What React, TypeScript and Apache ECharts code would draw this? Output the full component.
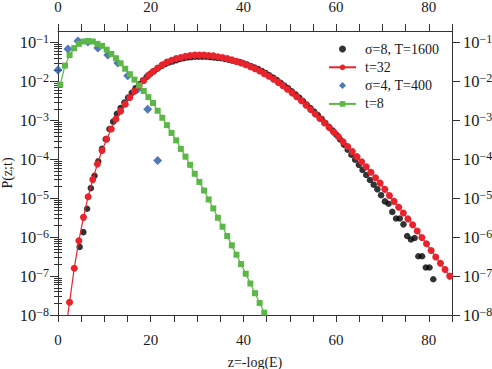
import React, { useEffect, useRef } from "react";
import * as echarts from "echarts";

// ---- data (y values are log10 P) ----
const zGreen = [0.5, 1.5, 2.5, 3.5, 4.5, 5.5, 6.5, 7.5, 8.5, 9.5, 10.5, 11.5, 12.5, 13.5, 14.5, 15.5, 16.5, 17.5, 18.5, 19.5, 20.5, 21.5, 22.5, 23.5, 24.5, 25.5, 26.5, 27.5, 28.5, 29.5, 30.5, 31.5, 32.5, 33.5, 34.5, 35.5, 36.5, 37.5, 38.5, 39.5, 40.5, 41.5, 42.5, 43.5, 44.5];
const logGreen = [-2.08, -1.59, -1.32, -1.14, -1.03, -0.97, -0.96, -0.97, -1.03, -1.08, -1.18, -1.29, -1.4, -1.53, -1.67, -1.81, -1.95, -2.1, -2.24, -2.4, -2.55, -2.75, -2.93, -3.12, -3.32, -3.51, -3.73, -3.93, -4.14, -4.37, -4.58, -4.8, -5.03, -5.26, -5.5, -5.73, -5.97, -6.21, -6.45, -6.69, -6.94, -7.19, -7.44, -7.69, -7.94];

const zBlue = [0, 2.15, 4.3, 6.45, 8.6, 10.75, 12.9, 15.05, 17.2, 19.35, 21.5];
const logBlue = [-1.7, -1.16, -0.96, -0.98, -1.14, -1.32, -1.52, -1.85, -2.2, -2.71, -4.03];

const zRed = [1.5, 2.5, 3.5, 4.5, 5.5, 6.5, 7.5, 8.5, 9.5, 10.5, 11.5, 12.5, 13.5, 14.5, 15.5, 16.5, 17.5, 18.5, 19.5, 20.5, 21.5, 22.5, 23.5, 24.5, 25.5, 26.5, 27.5, 28.5, 29.5, 30.5, 31.5, 32.5, 33.5, 34.5, 35.5, 36.5, 37.5, 38.5, 39.5, 40.5, 41.5, 42.5, 43.5, 44.5, 45.5, 46.5, 47.5, 48.5, 49.5, 50.5, 51.5, 52.5, 53.5, 54.5, 55.5, 56.5, 57.5, 58.5, 59.5, 60.5, 61.5, 62.5, 63.5, 64.5, 65.5, 66.5, 67.5, 68.5, 69.5, 70.5, 71.5, 72.5, 73.5, 74.5, 75.5, 76.5, 77.5, 78.5, 79.5, 80.5, 81.5, 82.5, 83.5, 84.5];
const logRed = [-8.5, -7.67, -6.8, -6.09, -5.49, -4.96, -4.52, -4.12, -3.77, -3.48, -3.22, -2.96, -2.76, -2.58, -2.41, -2.25, -2.11, -1.97, -1.84, -1.74, -1.65, -1.57, -1.5, -1.45, -1.41, -1.38, -1.35, -1.33, -1.32, -1.32, -1.32, -1.33, -1.34, -1.36, -1.38, -1.41, -1.44, -1.48, -1.52, -1.565, -1.615, -1.67, -1.73, -1.795, -1.865, -1.94, -2.02, -2.105, -2.195, -2.29, -2.39, -2.495, -2.605, -2.72, -2.835, -2.95, -3.065, -3.18, -3.3, -3.42, -3.545, -3.67, -3.8, -3.93, -4.06, -4.19, -4.33, -4.47, -4.61, -4.77, -4.93, -5.08, -5.23, -5.38, -5.53, -5.68, -5.84, -6.01, -6.17, -6.34, -6.51, -6.67, -6.83, -7.0];

const zBlack = [4.67, 5.47, 6.28, 7.08, 7.88, 8.69, 9.49, 10.29, 11.09, 11.9, 12.7, 13.5, 14.31, 15.11, 15.91, 16.72, 17.52, 18.32, 19.12, 19.93, 20.73, 21.53, 22.34, 23.14, 23.94, 24.75, 25.55, 26.35, 27.15, 27.96, 28.76, 29.56, 30.37, 31.17, 31.97, 32.78, 33.58, 34.38, 35.18, 35.99, 36.79, 37.59, 38.4, 39.2, 40.0, 40.81, 41.61, 42.41, 43.21, 44.02, 44.82, 45.62, 46.43, 47.23, 48.03, 48.84, 49.64, 50.44, 51.24, 52.05, 52.85, 53.65, 54.46, 55.26, 56.06, 56.87, 57.67, 58.47, 59.27, 60.08, 60.88, 61.68, 62.49, 63.29, 64.09, 64.9, 65.7, 66.5, 67.3, 68.11, 68.91, 69.71, 70.52, 71.32, 72.12, 72.93, 73.73, 74.53, 75.33, 76.14, 76.94, 77.74, 78.55, 79.35, 80.15, 80.96];
const logBlack = [-6.25, -5.87, -5.27, -4.74, -4.42, -4.05, -3.73, -3.48, -3.22, -3.03, -2.83, -2.68, -2.54, -2.41, -2.29, -2.17, -2.07, -1.97, -1.88, -1.8, -1.73, -1.66, -1.6, -1.55, -1.51, -1.48, -1.45, -1.42, -1.4, -1.38, -1.37, -1.36, -1.36, -1.36, -1.36, -1.37, -1.38, -1.39, -1.4, -1.42, -1.44, -1.46, -1.48, -1.5, -1.53, -1.56, -1.6, -1.64, -1.68, -1.73, -1.78, -1.84, -1.9, -1.96, -2.03, -2.1, -2.17, -2.25, -2.33, -2.41, -2.5, -2.59, -2.68, -2.77, -2.86, -2.96, -3.06, -3.16, -3.26, -3.37, -3.49, -3.62, -3.75, -3.88, -4.01, -4.14, -4.27, -4.4, -4.53, -4.65, -4.77, -4.92, -5.08, -5.14, -5.35, -5.52, -5.52, -5.67, -5.97, -6.06, -6.02, -6.49, -6.49, -6.78, -6.78, -7.08];

const seriesNames = ["σ=8, T=1600", "t=32", "σ=4, T=400", "t=8"];
const xTickLabels = [0, 20, 40, 60, 80];
const yDecades = [-8, -7, -6, -5, -4, -3, -2, -1];

// ---- styling ----
const FONT = "'Liberation Serif', 'DejaVu Serif', serif";
const AXIS = "#333333";
const TEXT = "#1a1a1a";
const RED = "#e8232b";
const BLUE = "#2457a8";
const GREEN = "#5bb746";
const Y_MIN = -8;
const Y_MAX = -0.7;
const DIAMOND_ICON = "path://M0,-1L1,0L0,1L-1,0Z";

const yMinor: number[] = [];
yDecades.forEach((d) => {
  for (let k = 2; k <= 9; k++) {
    const v = d + Math.log10(k);
    if (v <= Y_MAX) yMinor.push(v);
  }
});

const pairs = (xs: number[], ys: number[]) => xs.map((x, i) => [x, ys[i]]);

export default function App() {
  const ref = useRef<HTMLDivElement>(null);
  useEffect(() => {
    if (!ref.current) return;
    const chart = echarts.init(ref.current, null, { renderer: "svg" });

    const xBase: any = {
      type: "value",
      min: 0,
      max: 85,
      interval: 5,
      splitLine: { show: false },
      axisLine: { show: true, lineStyle: { color: AXIS, width: 1 } },
      axisTick: { show: true, length: 7, lineStyle: { color: AXIS } },
      axisLabel: {
        formatter: (v: number) => (xTickLabels.indexOf(v) >= 0 ? String(v) : ""),
        fontFamily: FONT,
        fontSize: 15,
        color: TEXT,
        margin: 17,
      },
    };

    const rich = {
      b: { fontFamily: FONT, fontSize: 16.5, lineHeight: 16, color: TEXT },
      s: { fontFamily: FONT, fontSize: 12, lineHeight: 12, color: TEXT, padding: [0, 0, 7, 0] },
    };
    const yFmt = (v: number) => `{b|10}{s|−${Math.abs(Math.round(v))}}`;

    const yMajor = (pos: "left" | "right", extra: any = {}): any => ({
      type: "value",
      position: pos,
      min: Y_MIN,
      max: Y_MAX,
      splitLine: { show: false },
      axisLine: { show: true, onZero: false, lineStyle: { color: AXIS, width: 1 } },
      axisTick: { show: true, length: 8, customValues: yDecades, lineStyle: { color: AXIS } },
      axisLabel: {
        customValues: yDecades,
        formatter: yFmt,
        rich,
        margin: pos === "left" ? 9 : 11,
        align: pos === "left" ? "right" : "left",
      },
      ...extra,
    });
    const yMinorAxis = (pos: "left" | "right"): any => ({
      type: "value",
      position: pos,
      min: Y_MIN,
      max: Y_MAX,
      splitLine: { show: false },
      axisLine: { show: false },
      axisTick: { show: true, length: 4, customValues: yMinor, lineStyle: { color: AXIS } },
      axisLabel: { show: false },
    });

    chart.setOption({
      animation: false,
      backgroundColor: "#ffffff",
      grid: { left: 58, right: 40, top: 31, bottom: 54, containLabel: false, outerBoundsMode: "none" },
      legend: {
        data: [
          { name: seriesNames[0] },
          { name: seriesNames[1] },
          { name: seriesNames[2], icon: DIAMOND_ICON },
          { name: seriesNames[3] },
        ],
        orient: "vertical",
        left: 323,
        top: 37,
        itemWidth: 27,
        itemHeight: 7,
        itemGap: 4.3,
        symbolKeepAspect: true,
        selectedMode: false,
        textStyle: { fontFamily: FONT, fontSize: 14, color: TEXT, padding: [0, 0, 0, 4] },
      },
      xAxis: [
        {
          ...xBase,
          position: "bottom",
          name: "z=-log(E)",
          nameLocation: "middle",
          nameGap: 40,
          nameMoveOverlap: false,
          nameTextStyle: { fontFamily: FONT, fontSize: 14, color: TEXT },
        },
        { ...xBase, position: "top" },
      ],
      yAxis: [
        yMajor("left", {
          name: "P(z;t)",
          nameLocation: "middle",
          nameRotate: 90,
          nameGap: 44,
          nameMoveOverlap: false,
          nameTextStyle: { fontFamily: FONT, fontSize: 14, color: TEXT },
        }),
        yMinorAxis("left"),
        yMajor("right"),
        yMinorAxis("right"),
      ],
      series: [
        {
          name: seriesNames[0],
          type: "scatter",
          data: pairs(zBlack, logBlack),
          symbol: "circle",
          symbolSize: 6.5,
          itemStyle: { color: "#000000" },
          emphasis: { disabled: true },
        },
        {
          name: seriesNames[1],
          type: "line",
          data: pairs(zRed, logRed),
          symbol: "circle",
          symbolSize: 7,
          showSymbol: true,
          lineStyle: { color: RED, width: 1.2 },
          itemStyle: { color: RED },
          emphasis: { disabled: true },
          clip: true,
        },
        {
          name: seriesNames[3],
          type: "line",
          data: pairs(zGreen, logGreen),
          symbol: "rect",
          symbolSize: 6,
          showSymbol: true,
          lineStyle: { color: GREEN, width: 1.2 },
          itemStyle: { color: GREEN },
          emphasis: { disabled: true },
          clip: true,
        },
        {
          name: seriesNames[2],
          type: "scatter",
          data: pairs(zBlue, logBlue),
          symbol: "diamond",
          symbolSize: 9,
          itemStyle: { color: BLUE },
          emphasis: { disabled: true },
        },
      ],
    });
    return () => chart.dispose();
  }, []);

  return (
    <div
      ref={ref}
      style={{ position: "fixed", left: 0, top: 0, width: 492, height: 369, background: "#fff" }}
    />
  );
}
